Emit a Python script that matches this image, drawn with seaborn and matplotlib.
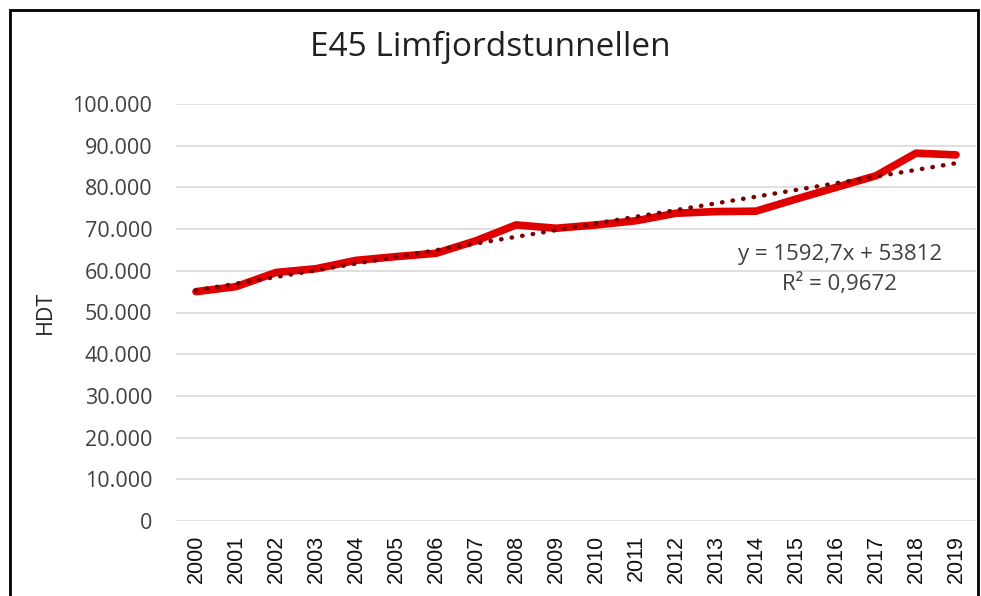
import numpy as np
import pandas as pd
import matplotlib.pyplot as plt
import seaborn as sns
from matplotlib.patches import Rectangle

# Data (annual daily traffic, HDT)
years = ['2000', '2001', '2002', '2003', '2004', '2005', '2006', '2007', '2008', '2009',
         '2010', '2011', '2012', '2013', '2014', '2015', '2016', '2017', '2018', '2019']
hdt = [55000, 56200, 59600, 60500, 62500, 63400, 64200, 67200, 71000, 70200,
       71000, 72000, 73800, 74200, 74300, 77200, 80000, 82800, 88200, 87800]
y_ticks = [0, 10000, 20000, 30000, 40000, 50000, 60000, 70000, 80000, 90000, 100000]
y_tick_labels = ['0', '10.000', '20.000', '30.000', '40.000', '50.000',
                 '60.000', '70.000', '80.000', '90.000', '100.000']
trend_text = ['y = 1592,7x + 53812', 'R\u00b2 = 0,9672']

df = pd.DataFrame({'idx': np.arange(len(years)), 'year': years, 'hdt': hdt})

sns.set_style('white')
plt.rcParams['font.family'] = ['Open Sans', 'DejaVu Sans']

fig = plt.figure(figsize=(9.81, 5.96), dpi=100)
ax = fig.add_axes([176 / 981, 1 - 521 / 596, 800 / 981, 417 / 596])

# gridlines
for v in y_ticks:
    ax.axhline(v, color='#d9d9d9', lw=1.2, zorder=0)

sns.lineplot(data=df, x='idx', y='hdt', ax=ax, color='#e00000', lw=5.5,
             solid_capstyle='round', zorder=3)
sns.regplot(data=df, x='idx', y='hdt', ax=ax, scatter=False, ci=None,
            line_kws={'color': '#7a0000', 'lw': 3.2, 'linestyle': (0, (0.1, 2.3)),
                      'dash_capstyle': 'round', 'zorder': 4})

ax.set_xlim(-0.5, len(years) - 0.5)
ax.set_ylim(0, 100000)
ax.set_xticks(df['idx'])
ax.set_xticklabels(years, rotation=90, fontsize=15.5, family='Liberation Sans',
                   color='#111111')
ax.set_yticks(y_ticks)
ax.set_yticklabels(y_tick_labels, fontsize=15.5, color='#404040')
ax.tick_params(axis='both', length=0)
ax.tick_params(axis='x', pad=10)
ax.tick_params(axis='y', pad=17)
ax.set_xlabel('')
ax.set_ylabel('HDT', fontsize=15.5, labelpad=12)
for s in ax.spines.values():
    s.set_visible(False)

ax.text(16.1, 64000, trend_text[0], ha='center', va='center', fontsize=16, color='#404040')
ax.text(16.1, 56800, trend_text[1], ha='center', va='center', fontsize=16, color='#404040')

fig.text(0.5, 1 - 47 / 596, 'E45 Limfjordstunnellen', ha='center', va='center',
         fontsize=24, color='#202020')

# outer chart frame
fig.patches.append(Rectangle((10 / 981, -0.05), 968 / 981, 1.05 - 10 / 596,
                             transform=fig.transFigure, fill=False,
                             edgecolor='black', lw=2))

fig.savefig('out.png', dpi=100)
